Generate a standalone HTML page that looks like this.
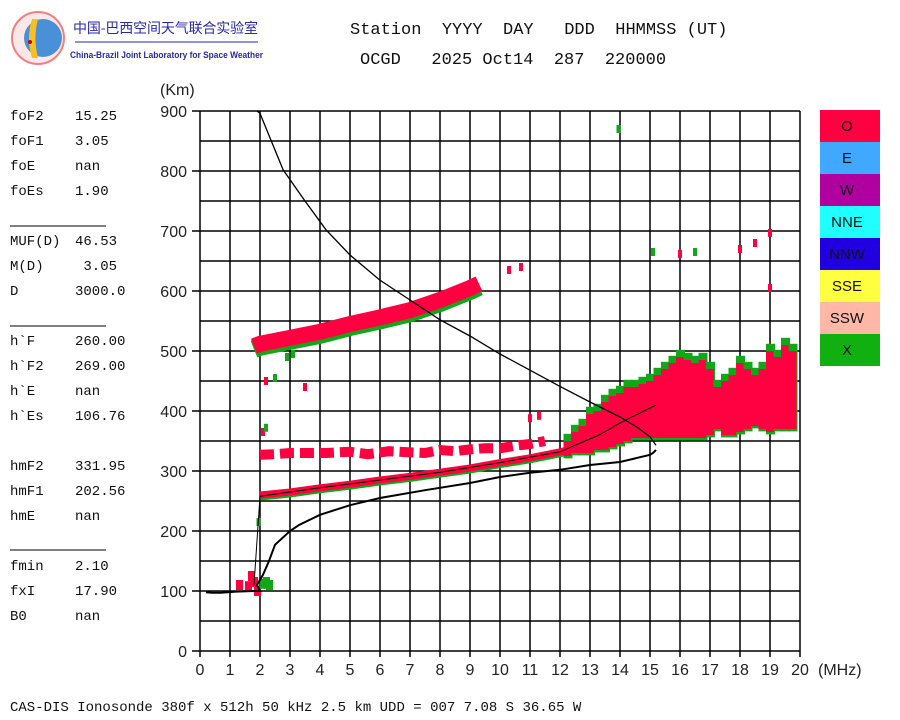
<!DOCTYPE html>
<html><head><meta charset="utf-8">
<style>
body{margin:0;width:900px;height:720px;background:#fff;overflow:hidden;position:relative;font-family:"Liberation Sans",sans-serif}
.m{font-family:"Liberation Mono","DejaVu Sans Mono",monospace;position:absolute;white-space:pre;color:#111}
.p{font-size:14px;line-height:16px}
</style></head><body>
<svg id="c" width="900" height="720" style="position:absolute;left:0;top:0"></svg>
<div class="m" style="left:350px;top:21px;font-size:17px">Station  YYYY  DAY   DDD  HHMMSS (UT)</div>
<div class="m" style="left:360px;top:51px;font-size:17px">OCGD   2025 Oct14  287  220000</div>
<div class="m" style="left:10px;top:700px;font-size:14px">CAS-DIS Ionosonde 380f x 512h 50 kHz 2.5 km UDD = 007 7.08 S 36.65 W</div>
<div id="panel"></div>
<script>
const NS="http://www.w3.org/2000/svg";
const svg=document.getElementById('c');
function el(t,a,p){const e=document.createElementNS(NS,t);for(const k in a)e.setAttribute(k,a[k]);(p||svg).appendChild(e);return e;}
const X=f=>200+f*30, Y=h=>651-h*0.6;

// parameter panel
const paramNames=["foF2","foF1","foE","foEs","MUF(D)","M(D)","D","h`F","h`F2","h`E","h`Es","hmF2","hmF1","hmE","fmin","fxI","B0"];
const paramValues=["15.25","3.05","nan","1.90","46.53"," 3.05","3000.0","260.00","269.00","nan","106.76","331.95","202.56","nan","2.10","17.90","nan"];
const paramRowY=[118,143,168,193,243,268,293,343,368,393,418,468,493,518,568,593,618];
const panel=document.getElementById('panel');
paramNames.forEach((n,i)=>{
  const a=document.createElement('div');a.className='m p';a.style.left='10px';a.style.top=(paramRowY[i]-9)+'px';a.textContent=n;
  
  
  panel.appendChild(a);
  const v=document.createElement('div');v.className='m p';v.style.left='75px';v.style.top=(paramRowY[i]-9)+'px';v.textContent=paramValues[i];
  
  
  panel.appendChild(v);
});

// data
const xTicks=[0,1,2,3,4,5,6,7,8,9,10,11,12,13,14,15,16,17,18,19,20];
const yTicks=[0,100,200,300,400,500,600,700,800,900];
const legendLabels=["O","E","W","NNE","NNW","SSE","SSW","X"];
const legendColors=["#ff0040","#40a8ff","#b000a0","#20ffff","#2000e0","#ffff40","#ffb8a8","#10b010"];
const fTraceF=[2,3,4,5,6,7,8,9,10,11,12,12.5];
const fTraceH=[260,265,272,278,285,291,298,305,314,322,332,338];
const hopF=[1.8,2,3,4,5,6,7,8,9,9.3];
const hopH=[508,512,522,532,545,556,568,585,605,612];
const esF=[2,2.5,3,3.5,4.2,5,5.6,6.3,7,7.5,8,8.5,9,9.5,10,10.5,11,11.5];
const esH=[327,328,330,330,330,332,328,333,331,330,335,333,336,338,338,342,345,350];
const cloudF=[12.25,12.5,12.75,13,13.25,13.5,13.75,14,14.25,14.5,14.75,15,15.25,15.5,15.75,16,16.25,16.5,16.75,17,17.25,17.5,17.75,18,18.25,18.5,18.75,19,19.25,19.5,19.75];
const cloudLo=[325,330,330,330,335,335,340,345,350,355,355,355,355,355,355,355,355,355,355,360,370,360,360,365,370,375,370,365,370,370,370];
const cloudHi=[350,365,375,395,400,415,425,430,440,440,445,450,460,470,480,490,485,480,485,470,440,450,460,480,470,460,470,500,490,510,500];
const eF=[1.3,1.6,1.7,1.8,1.9,2.1,2.2,2.3];
const eH=[110,108,125,115,100,112,115,110];
const eMode=["O","O","O","O","O","X","X","X"];
const speckF=[13.95,15.1,16,16.5,18,18.5,19,19,10.7,10.3,2.9,3.1,2.2,2.1,1.95,2.2,2.5,3.5,11,11.3];
const speckH=[870,665,662,665,670,680,697,605,640,635,490,495,450,365,215,372,455,440,388,392];
const speckMode=["X","X","O","X","O","O","O","O","O","O","X","X","O","O","X","X","X","O","O","O"];
const mufF=[1.9,2.0,2.77,3.5,4.2,5,6,7,8,9,10,11,12,13,14,14.6,15,15.2];
const mufH=[900,896,802,750,702,660,618,585,552,525,495,468,441,415,390,372,357,343];
const trF=[15.2,15.1,15,14,13,12,11,10,9,7.5,6,5,4,3.3,3,2.5,2.3,2.1,1.9,2.0,1.8,1.2,0.7,0.4,0.2];
const trH=[335,330,327,315,310,302,297,290,280,268,255,243,227,210,200,177,150,127,110,100,100,99,97,97,98];
const invF=[1.8,2,4,6,8,10,12,12.6,13.3,14,14.6,15,15.2];
const invH=[110,258,272,285,298,314,332,345,360,380,395,405,410];

// grid
for(const h of yTicks.concat([50,150,250,350,450,550,650,750,850])){
  const l=el('line',{x1:yTicks.includes(h)?192:200,x2:X(20),y1:Y(h),y2:Y(h),stroke:'#000','stroke-width':1.5});
  
  
}
for(const f of xTicks){
  const l=el('line',{x1:X(f),x2:X(f),y1:Y(900),y2:Y(0)+6,stroke:'#000','stroke-width':1.5});
  
  
  const t=el('text',{x:X(f),y:675,'text-anchor':'middle','font-size':16,fill:'#222'});t.textContent=f;
  
  
}
for(const h of yTicks){
  const t=el('text',{x:187,y:Y(h)+6,'text-anchor':'end','font-size':16,fill:'#222'});t.textContent=h;
  
  
}
let t=el('text',{x:160,y:95,'font-size':16,fill:'#222'});t.textContent='(Km)';


t=el('text',{x:818,y:675,'font-size':16,fill:'#222'});t.textContent='(MHz)';



const col=m=>m==="X"?"#10a818":"#ff0040";
function pts(F,H,dy){return F.map((f,i)=>X(f)+','+(Y(H[i])+(dy||0))).join(' ');}
let b=el('polyline',{points:pts(hopF,hopH,3),fill:'none',stroke:'#10a818','stroke-width':18});


b=el('polyline',{points:pts(hopF,hopH),fill:'none',stroke:'#ff0040','stroke-width':16});


b=el('polyline',{points:pts(esF,esH),fill:'none',stroke:'#ff0040','stroke-width':10,'stroke-dasharray':'14 6'});


b=el('polyline',{points:pts(fTraceF,fTraceH,2),fill:'none',stroke:'#10a818','stroke-width':7});


b=el('polyline',{points:pts(fTraceF,fTraceH),fill:'none',stroke:'#ff0040','stroke-width':7});


cloudF.forEach((f,i)=>{
  const g=el('rect',{x:X(f)-4,y:Y(cloudHi[i]+12),width:9,height:Y(cloudLo[i]-4)-Y(cloudHi[i]+12),fill:'#10a818'});
  
  
  const r=el('rect',{x:X(f)-4,y:Y(cloudHi[i]),width:8,height:Y(cloudLo[i])-Y(cloudHi[i]),fill:'#ff0040'});
  
  
});
eF.forEach((f,i)=>{const r=el('rect',{x:X(f)-3,y:Y(eH[i])-5,width:7,height:10,fill:col(eMode[i])});
  
  });
speckF.forEach((f,i)=>{const r=el('rect',{x:X(f)-2,y:Y(speckH[i])-4,width:4,height:8,fill:col(speckMode[i])});
  
  });
b=el('polyline',{points:pts(mufF,mufH),fill:'none',stroke:'#000','stroke-width':1.3});


b=el('polyline',{points:pts(trF,trH),fill:'none',stroke:'#000','stroke-width':2});


b=el('polyline',{points:pts(invF,invH),fill:'none',stroke:'#000','stroke-width':1});


legendLabels.forEach((s,i)=>{
  const r=el('rect',{x:820,y:110+i*32,width:60,height:32,fill:legendColors[i]});
  
  
  const tt=el('text',{x:847,y:131+i*32,'text-anchor':'middle','font-size':15,fill:'#111'});tt.textContent=s;
  
  
});
[226,326,550].forEach(y=>{const l=el('line',{x1:10,x2:106,y1:y,y2:y,stroke:'#000','stroke-width':1});
  
  });
const lg=el('g',{});


el('circle',{cx:38,cy:38,r:26,fill:'#fde8e8',stroke:'#f08080','stroke-width':2},lg);
el('circle',{cx:43,cy:38,r:19,fill:'#4a90d8'},lg);
el('path',{d:'M32 19 Q26 38 32 58 L38 58 Q33 38 38 19Z',fill:'#f5c020'},lg);
el('circle',{cx:30,cy:42,r:2,fill:'#c00'},lg);
let ct=el('text',{x:73,y:33,'font-size':14,fill:'#2a2aa8','font-family':'"Noto Sans CJK SC",sans-serif',textLength:185},lg);ct.textContent='中国-巴西空间天气联合实验室';
el('line',{x1:75,x2:258,y1:42,y2:42,stroke:'#2a2aa8','stroke-width':1},lg);
ct=el('text',{x:70,y:58,'font-size':9,'font-weight':'bold',fill:'#2a2aa8',textLength:193,lengthAdjust:'spacingAndGlyphs'},lg);ct.textContent='China-Brazil Joint Laboratory for Space Weather';
</script>
</body></html>
